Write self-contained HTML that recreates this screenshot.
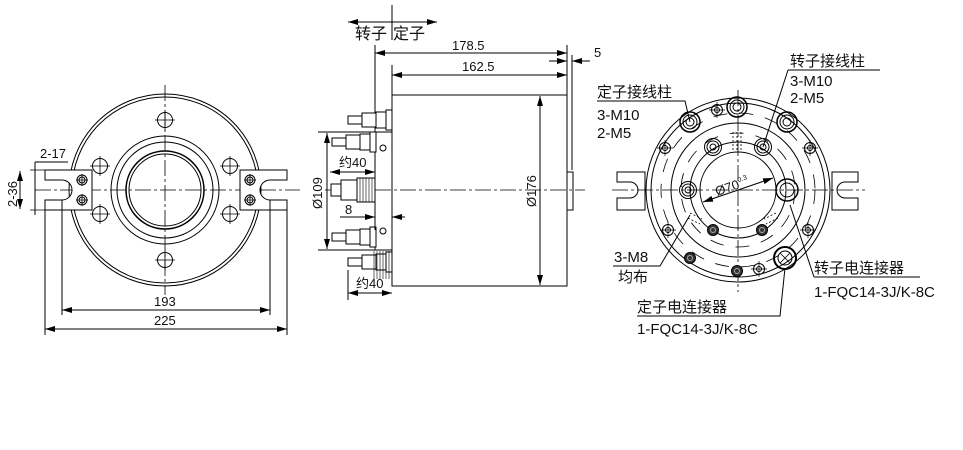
<!DOCTYPE html>
<html><head><meta charset="utf-8"><style>
html,body{margin:0;padding:0;background:#fff;}
svg{display:block;}
text{font-family:"Liberation Sans","Noto Sans CJK SC",sans-serif;font-size:15px;fill:#111;}
.t{font-size:13px;}
.b{font-size:16px;}
</style></head><body>
<svg width="963" height="450" viewBox="0 0 963 450" xmlns="http://www.w3.org/2000/svg">
<defs>
<marker id="a" viewBox="0 0 10 6" refX="10" refY="3" markerWidth="10" markerHeight="6" orient="auto-start-reverse" markerUnits="userSpaceOnUse"><path d="M0,0L10,3L0,6z" fill="#000"/></marker>
<g id="bolt"><circle r="5" fill="none" stroke="#000"/><circle r="3" fill="none" stroke="#000"/><path d="M-6,0H6M0,-6V6" stroke="#000" stroke-width="0.8"/></g>
<g id="hole"><circle r="7.5" fill="none" stroke="#000"/><path d="M-10,0H10M0,-10V10" stroke="#000" stroke-width="0.8"/></g>
<g id="big"><circle r="10" fill="none" stroke="#000" stroke-width="1.5"/><circle r="7" fill="none" stroke="#000"/><circle r="4" fill="none" stroke="#000"/></g>
<g id="mid"><circle r="8.5" fill="none" stroke="#000"/><circle r="6" fill="none" stroke="#000"/><circle r="3" fill="none" stroke="#000"/></g>
<g id="dark"><circle r="5.5" fill="#333" stroke="#000"/><circle r="2.5" fill="none" stroke="#aaa"/></g>
<g id="sm"><circle r="5.5" fill="none" stroke="#000"/><circle r="2.5" fill="none" stroke="#000"/><path d="M-8,0H8M0,-8V8" stroke="#000" stroke-width="0.7"/></g>
<g id="conn" fill="#fff" stroke="#000" stroke-width="1"><rect x="0" y="-4" width="14" height="8"/><rect x="14" y="-7" width="14" height="14"/><rect x="28" y="-8" width="10" height="16"/><rect x="38" y="-10" width="6" height="20"/></g>
</defs>
<g fill="none" stroke="#000" stroke-width="1">
<circle cx="165" cy="190" r="96"/><circle cx="165" cy="190" r="93"/>
<circle cx="165" cy="190" r="54"/><circle cx="165" cy="190" r="48"/>
<circle cx="165" cy="190" r="39" stroke-width="1.5"/><circle cx="165" cy="190" r="36"/>
<path d="M165,85V295M35,190H300" stroke-dasharray="16,3,3,3" stroke-width="0.8"/>
<use href="#hole" x="165" y="120"/><use href="#hole" x="165" y="260"/>
<use href="#hole" x="100" y="166"/><use href="#hole" x="230" y="166"/>
<use href="#hole" x="100" y="214"/><use href="#hole" x="230" y="214"/>
<path d="M45,170H92V210H45V200H62A10,10 0 0 0 62,180H45Z" fill="#fff"/>
<path d="M287,170H240V210H287V200H270A10,10 0 0 1 270,180H287Z" fill="#fff"/>
<use href="#bolt" x="82" y="180"/><use href="#bolt" x="82" y="200"/>
<use href="#bolt" x="250" y="180"/><use href="#bolt" x="250" y="200"/>
<path d="M30,170H45M30,210H45M20,172V208" stroke-width="0.8"/>
<path d="M20,171V209" marker-start="url(#a)" marker-end="url(#a)"/>
<path d="M35,162V215M35,162H68"/>
<path d="M45,210V335M287,210V335M62,200V315M270,200V315"/>
<path d="M62,310H270" marker-start="url(#a)" marker-end="url(#a)"/>
<path d="M45,329H287" marker-start="url(#a)" marker-end="url(#a)"/>
<rect x="392" y="95" width="175" height="191"/>
<rect x="375" y="132" width="17" height="118"/>
<rect x="567" y="172" width="6" height="38"/>
<path d="M325,190H585" stroke-dasharray="16,3,3,3" stroke-width="0.8"/>
<path d="M392,5V40"/>
<path d="M348,22H437" marker-start="url(#a)" marker-end="url(#a)"/>
<path d="M375,45V132M392,65V95M567,45V95M572,55V170"/>
<path d="M375,53H567" marker-start="url(#a)" marker-end="url(#a)"/>
<path d="M392,75H567" marker-start="url(#a)" marker-end="url(#a)"/>
<path d="M549,61H567" marker-end="url(#a)"/><path d="M590,61H572" marker-end="url(#a)"/>
<path d="M540,96V285" marker-start="url(#a)" marker-end="url(#a)"/>
<path d="M318,132H375M318,250H375"/>
<path d="M327,133V249" marker-start="url(#a)" marker-end="url(#a)"/>
<use href="#conn" x="348" y="120"/><use href="#conn" x="332" y="142"/>
<use href="#conn" x="332" y="237"/><use href="#conn" x="348" y="262"/>
<g fill="#fff"><rect x="331" y="184" width="10" height="12"/><rect x="341" y="180" width="16" height="20"/><rect x="357" y="178" width="18" height="24"/></g>
<path d="M360,178V202M363,178V202M366,178V202M369,178V202M372,178V202" stroke-width="0.6"/>
<path d="M374,251V279M377,251V279M380,251V279M383,251V279M386,251V279M389,251V279" stroke-width="0.6"/>
<circle cx="383" cy="148" r="3"/><circle cx="383" cy="231" r="3"/>
<path d="M330,172H375" marker-start="url(#a)" marker-end="url(#a)"/>
<path d="M340,217H375" marker-end="url(#a)"/><path d="M405,217H392" marker-end="url(#a)"/>
<path d="M375,205V230M392,205V230M348,270V300"/>
<path d="M348,293H392" marker-start="url(#a)" marker-end="url(#a)"/>
<path d="M617,172H645V210H617V198H630A8,8 0 0 0 630,182H617Z" fill="#fff"/>
<path d="M858,172H832V210H858V198H845A8,8 0 0 1 845,182H858Z" fill="#fff"/>
<circle cx="738" cy="190" r="92" fill="#fff"/><circle cx="738" cy="190" r="87"/>
<circle cx="738" cy="190" r="67"/><circle cx="738" cy="190" r="48"/><circle cx="738" cy="190" r="38"/>
<circle cx="738" cy="190" r="77" stroke-dasharray="14,12" stroke-width="0.8"/>
<circle cx="738" cy="190" r="57" stroke-dasharray="14,12" stroke-width="0.8"/>
<path d="M612,190H865M738,90V292" stroke-dasharray="16,3,3,3" stroke-width="0.8"/>
<path d="M733,132V150M737,132V150M741,132V150M690,213L702,219M688,218L700,224M776,213L764,219M778,218L766,224" stroke-dasharray="2,2" stroke-width="0.8"/>
<use href="#big" x="737" y="107"/><use href="#big" x="690" y="122"/><use href="#big" x="787" y="122"/>
<use href="#mid" x="713" y="147"/><use href="#mid" x="763" y="147"/><use href="#mid" x="688" y="190"/>
<circle cx="787" cy="190" r="11" stroke-width="1.5"/><circle cx="787" cy="190" r="7"/>
<circle cx="785" cy="258" r="11" stroke-width="2"/><circle cx="785" cy="258" r="7"/><path d="M780,253L790,263M790,253L780,263" stroke-width="0.8"/>
<use href="#dark" x="713" y="230"/><use href="#dark" x="762" y="230"/><use href="#dark" x="690" y="258"/><use href="#dark" x="737" y="271"/>
<use href="#sm" x="717" y="110"/><use href="#sm" x="665" y="148"/><use href="#sm" x="810" y="148"/>
<use href="#sm" x="668" y="230"/><use href="#sm" x="808" y="230"/><use href="#sm" x="759" y="269"/>
<path d="M703,202L773,178" marker-start="url(#a)" marker-end="url(#a)"/>
<path d="M597,101H685L690,122"/>
<path d="M788,70H880M788,70L763,147"/>
<path d="M613,266H660L690,215"/>
<path d="M814,277H920M814,277L790,205"/>
<path d="M637,316H780L785,268"/>
</g>
<text x="40" y="158" class="t">2-17</text>
<text transform="translate(17,207) rotate(-90)" class="t">2-36</text>
<text x="154" y="306" class="t">193</text>
<text x="154" y="325" class="t">225</text>
<text x="355" y="39" class="b">转子</text><text x="393" y="39" class="b">定子</text>
<text x="452" y="50" class="t">178.5</text>
<text x="462" y="71" class="t">162.5</text>
<text x="594" y="57" class="t">5</text>
<text transform="translate(536,207) rotate(-90)" class="t">Ø176</text>
<text transform="translate(322,209) rotate(-90)" class="t">Ø109</text>
<text x="339" y="167" class="t">约40</text>
<text x="345" y="214" class="t">8</text>
<text x="356" y="288" class="t">约40</text>
<text transform="translate(717,196) rotate(-19)" class="t">Ø70<tspan font-size="7" dy="-6">0.3</tspan></text>
<text x="597" y="97">定子接线柱</text>
<text x="597" y="120">3-M10</text><text x="597" y="138">2-M5</text>
<text x="790" y="66">转子接线柱</text>
<text x="790" y="86">3-M10</text><text x="790" y="103">2-M5</text>
<text x="614" y="262">3-M8</text><text x="618" y="282">均布</text>
<text x="814" y="273">转子电连接器</text>
<text x="814" y="297">1-FQC14-3J/K-8C</text>
<text x="637" y="312">定子电连接器</text>
<text x="637" y="334">1-FQC14-3J/K-8C</text>
</svg>
</body></html>
